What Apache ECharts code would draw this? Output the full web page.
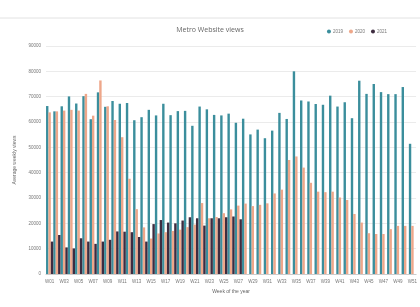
<!DOCTYPE html>
<html>
<head>
<meta charset="utf-8">
<script src="https://cdn.jsdelivr.net/npm/echarts@6/dist/echarts.min.js"></script>
<style>
  html, body { margin: 0; padding: 0; background: #fff; }
  #chart { width: 420px; height: 307px; }
</style>
</head>
<body>
<div id="chart"></div>
<script>
// weeks W01..W51 (chart is cropped on the right)
const weeks = []
for (let i = 1; i <= 51; i++) weeks.push('W' + String(i).padStart(2, '0'))

const views2019 = [
  66300, 64200, 66200, 70100, 67300, 70200, 61100, 71700, 66000, 68300,
  67200, 67500, 60700, 61900, 64800, 62600, 67200, 62700, 64300, 64400,
  58500, 66100, 65000, 62800, 62600, 63300, 59700, 61300, 55100, 57000,
  53600, 56600, 63600, 61200, 80000, 68500, 68100, 67100, 66800, 70400,
  66100, 67800, 61500, 76300, 71100, 75000, 71800, 71000, 71000, 73800,
  51400
]
const views2020 = [
  63800, 64200, 64500, 64800, 64500, 71100, 62500, 76400, 66200, 60800,
  54000, 37600, 25600, 18400, 14000, 16000, 16500, 17000, 17500, 18500,
  19500, 28000, 22000, 22500, 24000, 25500, 27000, 27800, 26800, 27300,
  27900, 31800, 33300, 45000, 46400, 42000, 36000, 32500, 32300, 32500,
  30200, 29200, 23700, 20300, 16100, 15800, 15800, 17700, 19000, 19000,
  19000
]
const views2021 = [
  12800, 15400, 10500, 10100, 14100, 12800, 11900, 12800, 13500, 16800,
  16700, 16500, 14600, 12800, 19700, 21300, 20300, 20000, 21100, 22400,
  22000, 19100, 22000, 22000, 22400, 22700, 21600
]

const chart = echarts.init(document.getElementById('chart'))

const barBase = {
  type: 'bar',
  barWidth: 2.4,
  barGap: '0%',
  animation: false
}

chart.setOption({
  backgroundColor: '#fff',
  title: {
    text: 'Metro Website views',
    left: 'center',
    top: 21,
    textStyle: { fontSize: 7, fontWeight: 'normal', color: '#666', fontFamily: 'Open Sans' }
  },
  legend: {
    right: 28,
    top: 24,
    itemWidth: 4,
    itemHeight: 4,
    itemGap: 6,
    icon: 'circle',
    textStyle: { fontSize: 4.5, color: '#777', padding: [0, 0, 0, -3] },
    data: ['2019', '2020', '2021']
  },
  grid: { left: 46, right: -4, top: 46, bottom: 33 },
  xAxis: {
    type: 'category',
    data: weeks,
    name: 'Week of the year',
    nameLocation: 'middle',
    nameGap: 13,
    nameTextStyle: { fontSize: 5, color: '#666' },
    axisLine: { lineStyle: { color: '#ccc' } },
    axisTick: { show: false },
    axisLabel: { interval: 1, fontSize: 4.5, color: '#777', margin: 5 }
  },
  yAxis: {
    type: 'value',
    min: 0,
    max: 90000,
    interval: 10000,
    name: 'Average weekly views',
    nameLocation: 'middle',
    nameGap: 28,
    nameTextStyle: { fontSize: 5, color: '#666' },
    axisLabel: { fontSize: 4.5, color: '#777', margin: 5, formatter: v => String(v) },
    splitLine: { lineStyle: { color: '#e6e6e6', width: 0.8 } }
  },
  series: [
    Object.assign({}, barBase, { name: '2019', data: views2019, itemStyle: { color: '#3b8e9c' } }),
    Object.assign({}, barBase, { name: '2020', data: views2020, itemStyle: { color: '#eea78a' } }),
    Object.assign({}, barBase, { name: '2021', data: views2021, itemStyle: { color: '#3e2c40' } })
  ],
  graphic: [{
    type: 'line',
    shape: { x1: 0, y1: 18, x2: 420, y2: 18 },
    style: { stroke: '#e2e2e2', lineWidth: 1 }
  }]
})
</script>
</body>
</html>
